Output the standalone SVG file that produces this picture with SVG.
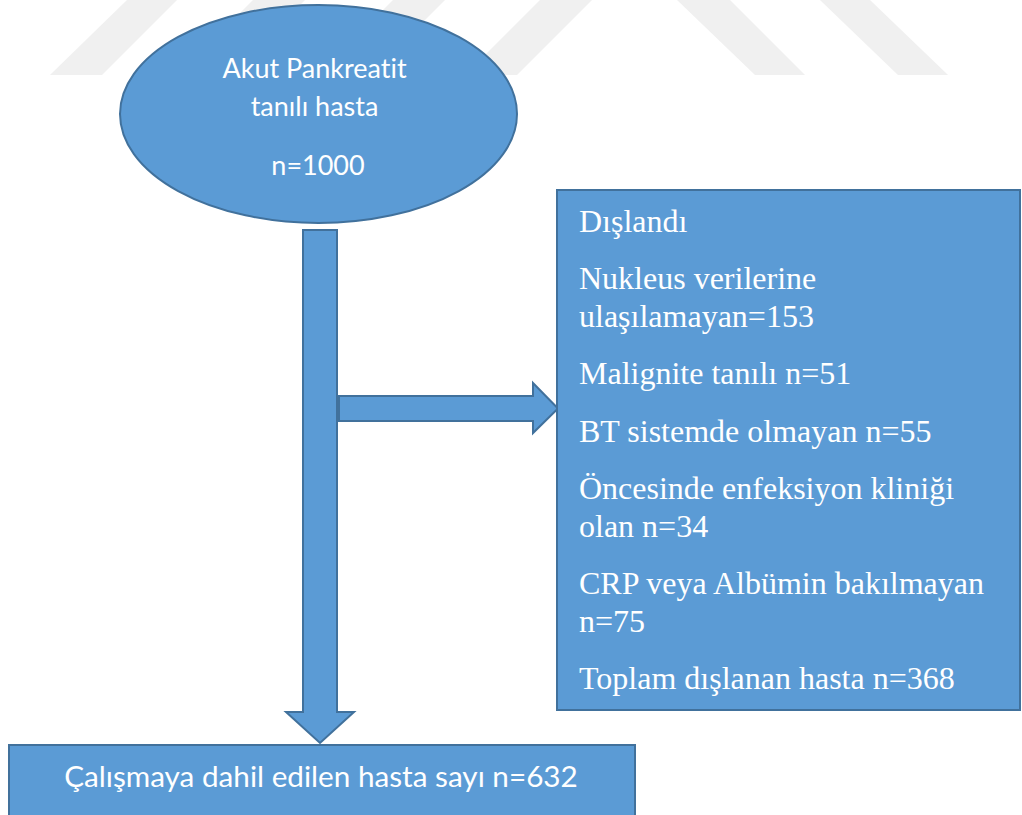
<svg xmlns="http://www.w3.org/2000/svg" width="1022" height="815" viewBox="0 0 1022 815">
<style>
.shape{fill:#5b9bd5;stroke:#41719c;stroke-width:2}
.wm{fill:#f0f0f0}
.sans{font-family:Lato,"Open Sans","Liberation Sans",sans-serif;fill:#ffffff;font-variant-ligatures:none}
.serif{font-family:"Liberation Serif","Times New Roman",serif;font-size:32px;fill:#ffffff}
</style>
<rect width="1022" height="815" fill="#ffffff"/>
<g id="watermark">
<polygon class="wm" points="50,75 102,75 177,0 127,0"/>
<polygon class="wm" points="178,75 230,75 305,0 253,0"/>
<polygon class="wm" points="318,75 370,75 445,0 393,0"/>
<polygon class="wm" points="465,75 517,75 592,0 540,0"/>
<polygon class="wm" points="677,0 730,0 805,75 755,75"/>
<polygon class="wm" points="820,0 870,0 948,75 898,75"/>
</g>
<g id="connectors">
<polygon id="arrow-down" class="shape" points="303,230 337,230 337,712 354,712 320,743 286,712 303,712"/>
<polygon id="arrow-right" class="shape" points="339,396 533,396 533,383 558,408.5 533,433 533,421 339,421"/>
</g>
<g id="start">
<ellipse class="shape" cx="318.5" cy="114" rx="198.5" ry="109"/>
<text class="sans" font-size="27" text-anchor="middle">
<tspan x="318" y="78">Akut Pankreatit</tspan>
<tspan x="318" y="116">tanılı hasta</tspan>
<tspan x="318" y="175">n=1000</tspan>
</text>
</g>
<g id="excluded">
<rect class="shape" x="557" y="190" width="463" height="520"/>
<text class="serif">
<tspan x="579" y="232">Dışlandı</tspan>
<tspan x="579" y="289">Nukleus verilerine</tspan>
<tspan x="579" y="327">ulaşılamayan=153</tspan>
<tspan x="579" y="384">Malignite tanılı n=51</tspan>
<tspan x="579" y="442">BT sistemde olmayan n=55</tspan>
<tspan x="579" y="499">Öncesinde enfeksiyon kliniği</tspan>
<tspan x="579" y="537">olan n=34</tspan>
<tspan x="579" y="594">CRP veya Albümin bakılmayan</tspan>
<tspan x="579" y="632">n=75</tspan>
<tspan x="579" y="689">Toplam dışlanan hasta n=368</tspan>
</text>
</g>
<g id="included">
<rect class="shape" x="9" y="745" width="626" height="72"/>
<text class="sans" font-size="29.7" text-anchor="middle" x="321" y="787">Çalışmaya dahil edilen hasta sayı n=632</text>
</g>
</svg>
